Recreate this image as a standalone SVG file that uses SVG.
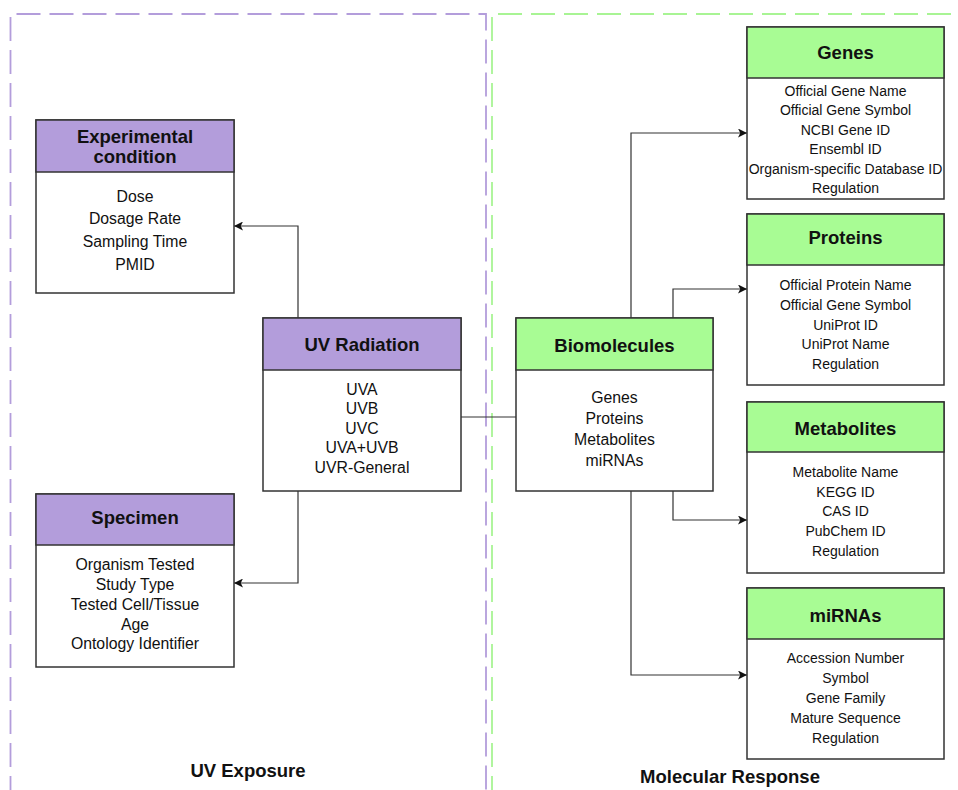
<svg xmlns="http://www.w3.org/2000/svg" width="958" height="790" viewBox="0 0 958 790">
<defs>
<marker id="arr" viewBox="0 0 10 10" refX="10" refY="5" markerWidth="9" markerHeight="9" markerUnits="userSpaceOnUse" orient="auto">
<path d="M0,0 L10,5 L0,10 L2.5,5 z" fill="#111"/>
</marker>
</defs>
<style>
.box{fill:#fff;stroke:#333;stroke-width:1.5}
.hp{fill:#B39DDB;stroke:#333;stroke-width:1.5}
.hg{fill:#A8FC94;stroke:#333;stroke-width:1.5}
.h{font-family:"Liberation Sans",Arial,sans-serif;font-weight:bold;font-size:18.5px;fill:#111;text-anchor:middle}
.b{font-family:"Liberation Sans",Arial,sans-serif;font-size:15.8px;fill:#111;text-anchor:middle}
.s{font-family:"Liberation Sans",Arial,sans-serif;font-size:14px;fill:#111;text-anchor:middle}
.lbl{font-family:"Liberation Sans",Arial,sans-serif;font-weight:bold;font-size:18.5px;fill:#111;text-anchor:middle}
.c{fill:none;stroke:#333;stroke-width:1.2}
</style>
<rect width="958" height="790" fill="#fff"/>
<g id="regions">
<path d="M10.5,800 L10.5,14 L486,14 L486,800" fill="none" stroke="#B39DDB" stroke-width="1.8" stroke-dasharray="24 9"/>
<path d="M492,800 L492,14 L970,14" fill="none" stroke="#A8F494" stroke-width="1.8" stroke-dasharray="24 9"/>
<text class="lbl" x="248" y="777">UV Exposure</text>
<text class="lbl" x="730" y="783">Molecular Response</text>
</g>
<g id="connectors">
<path class="c" d="M298,318 L298,226 L234,226" marker-end="url(#arr)"/>
<path class="c" d="M298,491 L298,583 L234,583" marker-end="url(#arr)"/>
<path class="c" d="M461,417 L516,417"/>
<path class="c" d="M631,318 L631,133 L747,133" marker-end="url(#arr)"/>
<path class="c" d="M673,318 L673,289 L747,289" marker-end="url(#arr)"/>
<path class="c" d="M673,491 L673,520 L747,520" marker-end="url(#arr)"/>
<path class="c" d="M631,491 L631,675 L747,675" marker-end="url(#arr)"/>
</g>
<g id="experimental-condition">
<rect class="box" x="36" y="120" width="198" height="173"/>
<rect class="hp" x="36" y="120" width="198" height="52"/>
<text class="h" x="135" y="143">Experimental</text>
<text class="h" x="135" y="163">condition</text>
<text class="b" x="135" y="202">Dose</text>
<text class="b" x="135" y="224">Dosage Rate</text>
<text class="b" x="135" y="247">Sampling Time</text>
<text class="b" x="135" y="270">PMID</text>
</g>
<g id="uv-radiation">
<rect class="box" x="263" y="318" width="198" height="173"/>
<rect class="hp" x="263" y="318" width="198" height="52"/>
<text class="h" x="362" y="351">UV Radiation</text>
<text class="b" x="362" y="395">UVA</text>
<text class="b" x="362" y="414">UVB</text>
<text class="b" x="362" y="434">UVC</text>
<text class="b" x="362" y="453">UVA+UVB</text>
<text class="b" x="362" y="473">UVR-General</text>
</g>
<g id="specimen">
<rect class="box" x="36" y="494" width="198" height="173"/>
<rect class="hp" x="36" y="494" width="198" height="51"/>
<text class="h" x="135" y="524">Specimen</text>
<text class="b" x="135" y="570">Organism Tested</text>
<text class="b" x="135" y="590">Study Type</text>
<text class="b" x="135" y="610">Tested Cell/Tissue</text>
<text class="b" x="135" y="630">Age</text>
<text class="b" x="135" y="649">Ontology Identifier</text>
</g>
<g id="biomolecules">
<rect class="box" x="516" y="318" width="197" height="173"/>
<rect class="hg" x="516" y="318" width="197" height="52"/>
<text class="h" x="614.5" y="352">Biomolecules</text>
<text class="b" x="614.5" y="403">Genes</text>
<text class="b" x="614.5" y="424">Proteins</text>
<text class="b" x="614.5" y="445">Metabolites</text>
<text class="b" x="614.5" y="466">miRNAs</text>
</g>
<g id="genes">
<rect class="box" x="747" y="27" width="197" height="172"/>
<rect class="hg" x="747" y="27" width="197" height="51"/>
<text class="h" x="845.5" y="59">Genes</text>
<text class="s" x="845.5" y="96">Official Gene Name</text>
<text class="s" x="845.5" y="115">Official Gene Symbol</text>
<text class="s" x="845.5" y="135">NCBI Gene ID</text>
<text class="s" x="845.5" y="154">Ensembl ID</text>
<text class="s" x="845.5" y="174">Organism-specific Database ID</text>
<text class="s" x="845.5" y="193">Regulation</text>
</g>
<g id="proteins">
<rect class="box" x="747" y="214" width="197" height="171"/>
<rect class="hg" x="747" y="214" width="197" height="51"/>
<text class="h" x="845.5" y="244">Proteins</text>
<text class="s" x="845.5" y="290">Official Protein Name</text>
<text class="s" x="845.5" y="310">Official Gene Symbol</text>
<text class="s" x="845.5" y="330">UniProt ID</text>
<text class="s" x="845.5" y="349">UniProt Name</text>
<text class="s" x="845.5" y="369">Regulation</text>
</g>
<g id="metabolites">
<rect class="box" x="747" y="402" width="197" height="171"/>
<rect class="hg" x="747" y="402" width="197" height="50"/>
<text class="h" x="845.5" y="435">Metabolites</text>
<text class="s" x="845.5" y="477">Metabolite Name</text>
<text class="s" x="845.5" y="497">KEGG ID</text>
<text class="s" x="845.5" y="516">CAS ID</text>
<text class="s" x="845.5" y="536">PubChem ID</text>
<text class="s" x="845.5" y="556">Regulation</text>
</g>
<g id="mirnas">
<rect class="box" x="747" y="588" width="197" height="171"/>
<rect class="hg" x="747" y="588" width="197" height="51"/>
<text class="h" x="845.5" y="622">miRNAs</text>
<text class="s" x="845.5" y="663">Accession Number</text>
<text class="s" x="845.5" y="683">Symbol</text>
<text class="s" x="845.5" y="703">Gene Family</text>
<text class="s" x="845.5" y="723">Mature Sequence</text>
<text class="s" x="845.5" y="743">Regulation</text>
</g>
</svg>
